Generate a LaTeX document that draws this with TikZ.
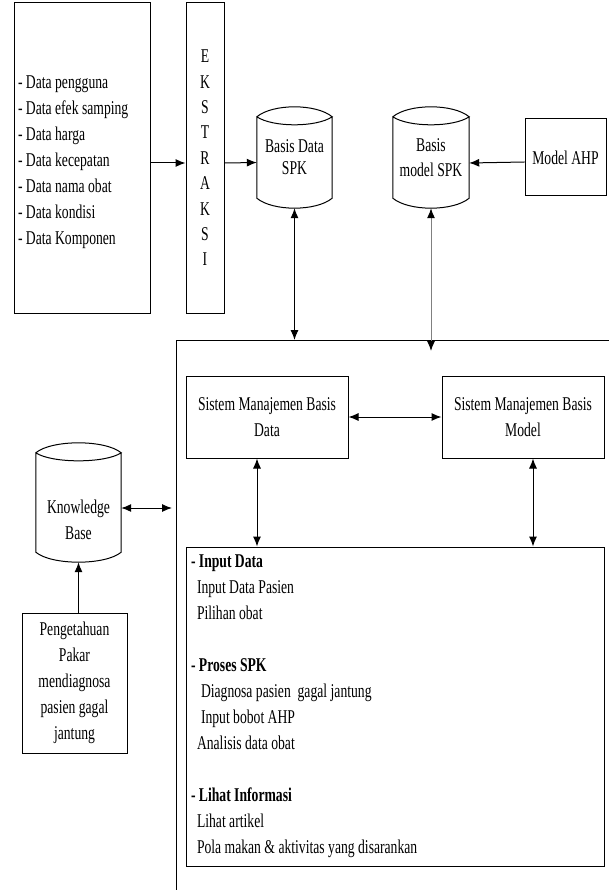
\documentclass[tikz,border=0pt]{standalone}
\usepackage{fontspec}
\setmainfont{Liberation Serif}[FakeStretch=0.7]
\usepackage{tikz}
\usetikzlibrary{arrows.meta}
\newcommand{\nodefont}[1]{\fontsize{19.5}{#1}\selectfont}
\tikzstyle{block} = [draw, rectangle, line width=1pt, align=center, inner sep=0pt]
\tikzstyle{dbase} = [rectangle, align=flush center, inner sep=0pt]
\tikzstyle{line} = [draw, line width=1pt]
% garis tabung basis data di sekitar node
\newcommand{\dbdraw}[1]{%
    \draw [line] ([yshift=-10pt]#1.north west)
        .. controls ([xshift=16pt, yshift=3.3pt]#1.north west) and ([xshift=-16pt, yshift=3.3pt]#1.north east) .. ([yshift=-10pt]#1.north east)
        .. controls ([xshift=-16pt, yshift=-20.7pt]#1.north east) and ([xshift=16pt, yshift=-20.7pt]#1.north west) .. ([yshift=-10pt]#1.north west)
        -- ([yshift=10pt]#1.south west)
        .. controls ([xshift=16pt, yshift=-3.3pt]#1.south west) and ([xshift=-16pt, yshift=-3.3pt]#1.south east) .. ([yshift=10pt]#1.south east)
        -- ([yshift=-10pt]#1.north east);}

\begin{document}
\begin{tikzpicture}[x=1pt, y=-1pt, >={Latex[length=10pt, width=8pt, color=black]},
        every node/.style={font=\nodefont{26}}]
        \useasboundingbox[fill=white] (0,0) rectangle (609,890);

        % sumber data dan ekstraksi
        \node [block, minimum width=136pt, minimum height=310pt, text width=128pt, align=flush left] (src) at (82,158)
            {\rule{0pt}{22pt}- Data pengguna\\- Data efek samping\\- Data harga\\- Data kecepatan\\- Data nama obat\\- Data kondisi\\- Data Komponen};
        \node [block, minimum width=38pt, minimum height=310pt, font=\nodefont{25.4}] (ekstr) at (205,158) {E\\K\\S\\T\\R\\A\\K\\S\\I};
        \node [dbase, minimum width=75pt, minimum height=101pt, text width=70pt, font=\nodefont{22}] (bdspk) at (294.5,157.5) {Basis Data\\SPK};
        \node [dbase, right of=bdspk, node distance=136.5pt, minimum width=76pt, minimum height=101pt, text width=70pt, font=\nodefont{25}] (bmspk) {Basis\\model SPK};
        \node [block, right of=bmspk, node distance=134.5pt, minimum width=81pt, minimum height=77pt] (ahp) {Model AHP};
        \dbdraw{bdspk}
        \dbdraw{bmspk}

        \draw [line, ->] ([yshift=-5pt]src.east) -- ([yshift=-5pt]ekstr.west);
        \draw [line, ->] ([yshift=-5pt]ekstr.east) -- ([yshift=-5pt]bdspk.west);
        \draw [line, ->] ([yshift=-4.5pt]ahp.west) -- ([yshift=-5.5pt]bmspk.east);

        % batas sistem
        \coordinate (systr) at (609,340);
        \coordinate (sysbl) at (176,890);
        \draw [line] (systr) -| (sysbl);
        \draw [line, <->] (bdspk.south) -- (bdspk.south |- systr);
        \draw [line, draw=gray, <->] (bmspk.south) -- ([yshift=-11pt]bmspk.south |- systr);

        % subsistem
        \node [block, minimum width=162pt, minimum height=82pt] (smbd) at (267,417) {Sistem Manajemen Basis\\Data};
        \node [block, right of=smbd, node distance=256pt, minimum width=162pt, minimum height=82pt] (smbm) {Sistem Manajemen Basis\\Model};
        \node [block, minimum width=418pt, minimum height=319pt, text width=408pt, align=flush left] (menu) at (395,706.5)
            {\textbf{- Input Data}\\
            \hspace*{6pt}Input Data Pasien\\
            \hspace*{6pt}Pilihan obat\\[26pt]
            \textbf{- Proses SPK}\\
            \hspace*{10pt}Diagnosa pasien~ gagal jantung\\
            \hspace*{10pt}Input bobot AHP\\
            \hspace*{6pt}Analisis data obat\\[26pt]
            \textbf{- Lihat Informasi}\\
            \hspace*{6pt}Lihat artikel\\
            \hspace*{6pt}Pola makan \& aktivitas yang disarankan};

        \draw [line, <->] (smbd) -- (smbm);
        \draw [line, <->] ([xshift=-10pt]smbd.south) -- ([xshift=-10pt]smbd.south |- menu.north);
        \draw [line, <->] ([xshift=10pt]smbm.south) -- ([xshift=10pt]smbm.south |- menu.north);

        % basis pengetahuan
        \node [dbase, minimum width=85pt, minimum height=119pt,
            label={[align=center, yshift=-17.5pt]center:Knowledge\\Base}] (kb) at (78.5,502.5) {};
        \dbdraw{kb}
        \node [block, minimum width=105pt, minimum height=140pt] (pakar) at (74.5,683)
            {Pengetahuan\\Pakar\\mendiagnosa\\pasien gagal\\jantung};
        \coordinate (kbin) at (172,508);
        \draw [line, <->] (kb.east |- kbin) -- (kbin);
        \draw [line, ->] (pakar.north -| kb.south) -- (kb.south);
\end{tikzpicture}
\end{document}
